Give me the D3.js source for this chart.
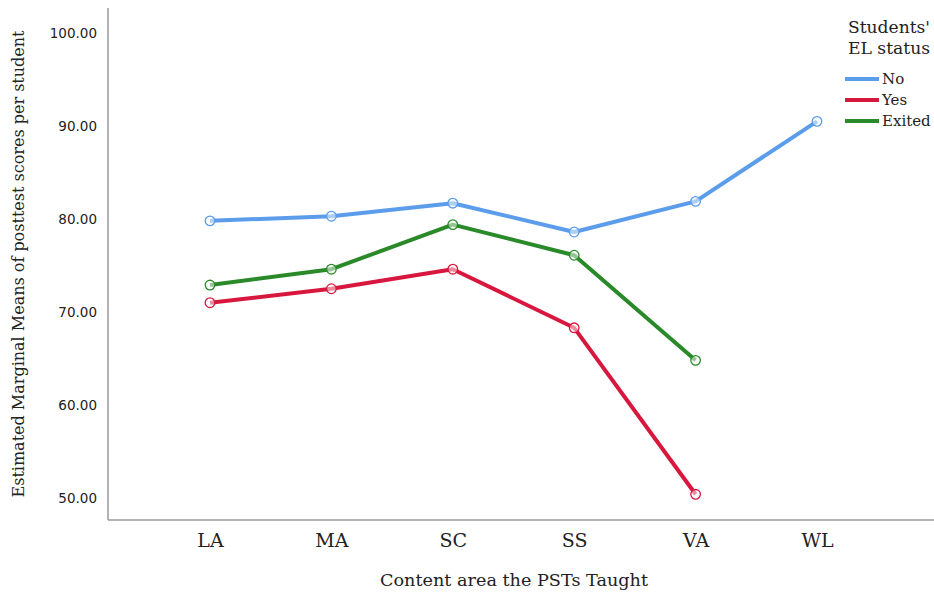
<!DOCTYPE html>
<html><head><meta charset="utf-8">
<script src="https://cdn.jsdelivr.net/npm/d3@7"></script>
<style>body{margin:0;background:#fff}svg{display:block}text{font-family:"DejaVu Serif","Liberation Serif",serif;fill:#222}</style>
</head><body><svg id="c" width="934" height="594"></svg>
<script>
const categories = ["LA","MA","SC","SS","VA","WL"];
const seriesNames = ["No","Yes","Exited"];
const valuesNo = [79.8, 80.3, 81.7, 78.6, 81.9, 90.5];
const valuesYes = [71.0, 72.5, 74.6, 68.3, 50.4, null];
const valuesExited = [72.9, 74.6, 79.4, 76.1, 64.8, null];
const yTicks = [50, 60, 70, 80, 90, 100];
const colors = ["#5b9ceb", "#d8173f", "#2a8a2a"];

const svg = d3.select("#c");
const left = 108, bottom = 520;
const x = d3.scalePoint().domain(categories).range([210, 817]);
const y = d3.scaleLinear().domain([50, 100]).range([498, 33]);

svg.append("line").attr("x1",left).attr("x2",left).attr("y1",8).attr("y2",bottom).attr("stroke","#999").attr("stroke-width",1.5);
svg.append("line").attr("x1",left).attr("x2",934).attr("y1",bottom).attr("y2",bottom).attr("stroke","#999").attr("stroke-width",1.5);

const yAxis = d3.axisLeft(y).tickValues(yTicks).tickSize(0).tickPadding(0).tickFormat(d3.format(".2f"));
const yg = svg.append("g").attr("transform",`translate(${left-11},0)`).call(yAxis);
yg.select(".domain").remove();
yg.selectAll("text").attr("dy","0.35em").style("font-family",'"DejaVu Sans", sans-serif').style("font-size","13.5px").attr("fill","#222");

const xAxis = d3.axisBottom(x).tickSize(0).tickPadding(0);
const xg = svg.append("g").attr("transform",`translate(0,${bottom+13})`).call(xAxis);
xg.select(".domain").remove();
xg.selectAll("text").style("font-size","19px").style("font-family",'"DejaVu Serif", serif').attr("dy","0.71em").attr("fill","#222");

svg.append("text").attr("transform","translate(24,264) rotate(-90)").attr("text-anchor","middle").style("font-size","16px")
  .attr("textLength",467).attr("lengthAdjust","spacingAndGlyphs").text("Estimated Marginal Means of posttest scores per student");
svg.append("text").attr("x",514).attr("y",586).attr("text-anchor","middle").style("font-size","17px")
  .attr("textLength",268).attr("lengthAdjust","spacingAndGlyphs").text("Content area the PSTs Taught");

const allSeries = [valuesNo, valuesYes, valuesExited];
const line = d3.line().defined(d => d.v != null).x(d => x(d.c)).y(d => y(d.v));
allSeries.forEach((vals, i) => {
  const pts = categories.map((c, j) => ({c, v: vals[j]}));
  svg.append("path").datum(pts).attr("d", line).attr("fill","none").attr("stroke",colors[i]).attr("stroke-width",4).attr("stroke-linejoin","round");
  svg.selectAll(null).data(pts.filter(d => d.v != null)).enter().append("circle")
    .attr("cx", d => x(d.c)).attr("cy", d => y(d.v)).attr("r", 4.8)
    .attr("fill","#fff").attr("fill-opacity",0.5).attr("stroke", colors[i]).attr("stroke-width",1.3);
});

svg.append("text").attr("x",848).attr("y",33).style("font-size","16px").attr("textLength",82).attr("lengthAdjust","spacingAndGlyphs").text("Students'");
svg.append("text").attr("x",848).attr("y",54).style("font-size","16px").attr("textLength",82).attr("lengthAdjust","spacingAndGlyphs").text("EL status");
seriesNames.forEach((n, i) => {
  const ly = 79 + i * 21;
  svg.append("line").attr("x1",845).attr("x2",879).attr("y1",ly).attr("y2",ly).attr("stroke",colors[i]).attr("stroke-width",4);
  svg.append("text").attr("x",882).attr("y",ly+5).style("font-size","15px").text(n);
});
</script></body></html>
